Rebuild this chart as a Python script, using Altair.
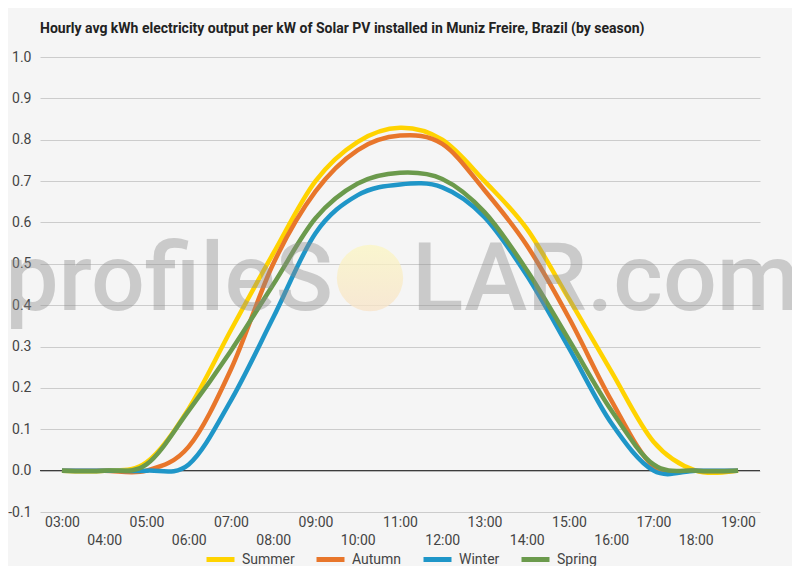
import altair as alt
import pandas as pd

hours = ["03:00", "04:00", "05:00", "06:00", "07:00", "08:00", "09:00", "10:00", "11:00",
         "12:00", "13:00", "14:00", "15:00", "16:00", "17:00", "18:00", "19:00"]
seasons = ["Summer", "Autumn", "Winter", "Spring"]
colors = ["#FFD300", "#E8762B", "#1F96C8", "#6B9A4C"]

summer = [0, 0, 0.02, 0.15, 0.34, 0.525, 0.70, 0.795, 0.829, 0.80, 0.70, 0.585, 0.415, 0.24, 0.07, 0, 0]
autumn = [0, 0, 0, 0.058, 0.245, 0.50, 0.675, 0.775, 0.81, 0.79, 0.678, 0.545, 0.369, 0.17, 0.01, 0, 0]
winter = [0, 0, 0, 0.015, 0.17, 0.37, 0.574, 0.666, 0.692, 0.685, 0.613, 0.472, 0.296, 0.115, 0.0, 0, 0]
spring = [0, 0, 0.015, 0.145, 0.29, 0.45, 0.61, 0.694, 0.72, 0.705, 0.625, 0.485, 0.316, 0.146, 0.015, 0, 0]

y_ticks = [-0.1, -0.05, 0.0, 0.05, 0.1, 0.15, 0.2, 0.25, 0.3, 0.35, 0.4, 0.45,
           0.5, 0.55, 0.6, 0.65, 0.7, 0.75, 0.8, 0.85, 0.9, 0.95, 1.0]

rows = []
for name, vals in zip(seasons, [summer, autumn, winter, spring]):
    for h, v in zip(hours, vals):
        rows.append({"hour": h, "season": name, "kwh": v})
df = pd.DataFrame(rows)

font = "Roboto"

x_enc = alt.X("hour:O", sort=hours,
              scale=alt.Scale(type="point", domain=hours, padding=0.52),
              axis=alt.Axis(title=None, labelAngle=0, domain=False, ticks=False, grid=False,
                            labelOverlap=False, labelPadding=3, labelFontSize=14,
                            labelColor="#444444", labelLineHeight=18, labelFont=font,
                            labelExpr="toNumber(substring(datum.value, 0, 2)) % 2 == 0 ? ['', datum.value] : datum.value"))

y_enc = alt.Y("kwh:Q",
              scale=alt.Scale(domain=[-0.1, 1.0], nice=False, zero=False),
              axis=alt.Axis(title=None, values=y_ticks, domain=False, ticks=False,
                            labelPadding=9, labelFontSize=14, labelColor="#444444", labelFont=font,
                            labelExpr="abs(round(datum.value * 20)) % 2 == 0 ? replace(format(datum.value, '.1f'), '\u2212', '-') : ''",
                            gridColor={"condition": {"test": "abs(round(datum.value * 20)) % 2 == 1",
                                                     "value": "#e4e4e4"},
                                       "value": "#cccccc"}))

lines = alt.Chart(df).mark_line(interpolate="cardinal", strokeWidth=4.5).encode(
    x=x_enc,
    y=y_enc,
    color=alt.Color("season:N", sort=seasons,
                    scale=alt.Scale(domain=seasons, range=colors),
                    legend=alt.Legend(title=None, orient="none", legendX=164, legendY=486,
                                      direction="horizontal", symbolType="stroke",
                                      symbolStrokeWidth=5, symbolSize=784, labelFontSize=14,
                                      labelColor="#444444", labelFont=font, columnPadding=11,
                                      gridAlign="none", labelOffset=5)),
    detail="season:N",
)

zero = alt.Chart(pd.DataFrame({"kwh": [0.0]})).mark_rule(color="#222222", strokeWidth=1).encode(
    y=alt.Y("kwh:Q", scale=alt.Scale(domain=[-0.1, 1.0], nice=False, zero=False))
)

# watermark
mark_df = pd.DataFrame({"a": [0]})
sun = alt.Chart(mark_df).mark_circle(
    size=4400, opacity=0.75,
    color={"gradient": "linear", "x1": 0, "y1": 0, "x2": 0, "y2": 1,
           "stops": [{"offset": 0, "color": "#fbf6c2"}, {"offset": 1, "color": "#f8e3c8"}]},
).encode(x=alt.value(330), y=alt.value(221))

wm_left = alt.Chart(mark_df).mark_text(
    text="profileS", font=font, fontSize=95, fontWeight=500, align="right",
    baseline="alphabetic", color="#8c8c8c", opacity=0.4,
).encode(x=alt.value(293), y=alt.value(253))

wm_right = alt.Chart(mark_df).mark_text(
    text="LAR.com", font=font, fontSize=95, fontWeight=500, align="left",
    baseline="alphabetic", color="#8c8c8c", opacity=0.4,
).encode(x=alt.value(372), y=alt.value(253))

chart = alt.layer(zero, lines, sun, wm_left, wm_right).properties(
    width=720,
    height=455,
    padding={"left": 32, "top": 49, "right": 32, "bottom": 54},
    autosize=alt.AutoSizeParams(type="none"),
    background="#f5f5f5",
    title=alt.TitleParams(
        "Hourly avg kWh electricity output per kW of Solar PV installed in Muniz Freire, Brazil (by season)",
        anchor="start", frame="group", fontSize=14, fontWeight="bold", color="#222222",
        font=font, offset=14),
).configure_view(stroke=None)

chart.save("out.html", embed_options={"renderer": "svg", "actions": False})
